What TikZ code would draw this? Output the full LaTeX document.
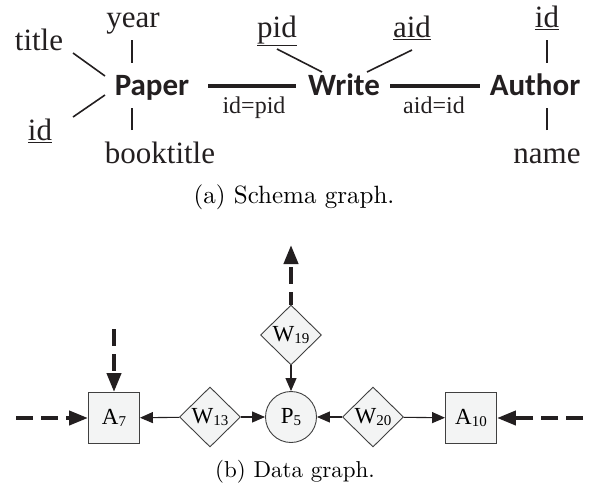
\documentclass[tikz,border=0pt]{standalone}
\usepackage{fontspec}
\newfontfamily\tnr{Liberation Serif}
\newfontfamily\calibri{Carlito}
\newfontfamily\capfont{lmroman10-regular}[Extension=.otf]
\usetikzlibrary{shapes.geometric,arrows.meta,calc}
\definecolor{ink}{HTML}{231F20}
\definecolor{nodefill}{HTML}{F3F4F4}
\definecolor{nodeline}{HTML}{404040}
\newcommand\nlab[2]{#1{\fontsize{15}{15}\selectfont\raisebox{-2pt}{#2}}}
\begin{document}
\begin{tikzpicture}[x=1pt,y=-1pt,
  lbl/.style={font=\tnr\fontsize{31}{31}\selectfont, inner sep=0, anchor=base, text=ink},
  ent/.style={font=\calibri\bfseries\fontsize{31}{31}\selectfont, inner sep=0, anchor=base, text=ink},
  elbl/.style={font=\tnr\fontsize{24}{24}\selectfont, inner sep=0, anchor=base, text=ink},
  capt/.style={font=\capfont\fontsize{23}{23}\selectfont, inner sep=0, anchor=base},
  attrline/.style={draw=ink, line width=1.6pt},
  reline/.style={draw=ink, line width=3.6pt},
  gnode/.style={draw=nodeline, fill=nodefill, line width=0.9pt, inner sep=0,
    font=\tnr\fontsize{23}{23}\selectfont},
  abox/.style={gnode, rectangle, minimum size=51pt},
  wdia/.style={gnode, diamond, minimum width=61pt, minimum height=60pt},
  pcirc/.style={gnode, circle, minimum size=51pt},
  arr/.style={draw=ink, line width=1.1pt, -{Triangle[length=13pt,width=11pt]}},
  darr/.style={draw=ink, line width=4pt, dash pattern=on 17pt off 8pt,
    -{Triangle[length=19pt,width=14pt]}}
]
\useasboundingbox (0,0) rectangle (603,488);

% ---- schema graph ----
\node[ent] (paper) at (152,95) {Paper};
\node[ent] (write) at (344,95) {Write};
\node[ent] (author) at (535,95) {Author};

\node[lbl] (title) at (39,50) {title};
\node[lbl] (year) at (133,27) {year};
\node[lbl] (pidl) at (40,140) {\underline{id}};
\node[lbl] (btitle) at (160,163) {booktitle};
\node[lbl] (pid) at (277,37) {\underline{pid}};
\node[lbl] (aid) at (412,37) {\underline{aid}};
\node[lbl] (authid) at (547,27) {\underline{id}};
\node[lbl] (name) at (547,163) {name};

\node[elbl] (e1) at (254,113) {id=pid};
\node[elbl] (e2) at (434,113) {aid=id};

\draw[attrline] ($(title.base)+(34,3)$) -- ($(paper.base)+(-47,-19)$);
\draw[attrline] ($(year.base)+(-1,13)$) -- ($(paper.base)+(-20,-32)$);
\draw[attrline] ($(pidl.base)+(33,-23)$) -- ($(paper.base)+(-47,0)$);
\draw[attrline] ($(btitle.base)+(-28,-33)$) -- ($(paper.base)+(-20,13)$);
\draw[attrline] ($(pid.base)+(0,12)$) -- ($(write.base)+(-22,-23)$);
\draw[attrline] ($(aid.base)+(0,13)$) -- ($(write.base)+(23,-23)$);
\draw[attrline] ($(authid.base)+(0,13)$) -- ($(author.base)+(12,-32)$);
\draw[attrline] ($(name.base)+(0,-33)$) -- ($(author.base)+(12,13)$);
\draw[reline] ($(paper.base)+(56,-9)$) -- ($(write.base)+(-48,-9)$);
\draw[reline] ($(write.base)+(46,-9)$) -- ($(author.base)+(-55,-9)$);

\node[capt, font=\capfont\fontsize{25}{25}\selectfont] (capa) at (294,203) {(a) Schema graph.};

% ---- data graph ----
\node[abox] (a7) at (114,418) {\nlab{A}{7}};
\node[wdia] (w13) at (210,417) {\nlab{W}{13}};
\node[pcirc] (p5) at (291,417) {\nlab{P}{5}};
\node[wdia] (w19) at (291,335) {\nlab{W}{19}};
\node[wdia] (w20) at (373,417) {\nlab{W}{20}};
\node[abox] (a10) at (471,418) {\nlab{A}{10}};

\draw[arr] (w13) -- (a7);
\draw[arr] (w13) -- (p5);
\draw[arr] (w19) -- (p5);
\draw[arr] (w20) -- (p5);
\draw[arr] (w20) -- (a10);

\coordinate (lstart) at (16,418);
\coordinate (tstart) at (114,329);
\coordinate (uend) at (291,245);
\coordinate (rstart) at (583,418);
\draw[darr] (lstart) -- (a7);
\draw[darr] (tstart) -- (a7);
\draw[darr, dash phase=4pt] (w19) -- (uend);
\draw[darr] (rstart) -- (a10);

\node[capt] (capb) at (295,477) {(b) Data graph.};
\end{tikzpicture}
\end{document}
